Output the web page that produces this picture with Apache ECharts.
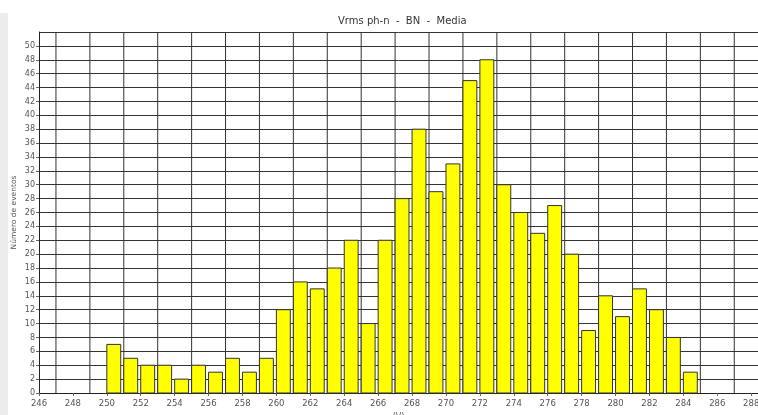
<!DOCTYPE html>
<html>
<head>
<meta charset="utf-8">
<script src="https://cdn.jsdelivr.net/npm/echarts@6/dist/echarts.min.js"></script>
<style>
  html, body { margin: 0; padding: 0; background: #fff; }
  #chart { width: 758px; height: 415px; }
</style>
</head>
<body>
<div id="chart"></div>
<script>
// histogram bins (left edge, V) and event counts
var binStart = [250, 251, 252, 253, 254, 255, 256, 257, 258, 259, 260, 261, 262, 263, 264, 265, 266, 267,
  268, 269, 270, 271, 272, 273, 274, 275, 276, 277, 278, 279, 280, 281, 282, 283, 284]
var counts = [7, 5, 4, 4, 2, 4, 3, 5, 3, 5, 12, 16, 15, 18, 22, 10, 22, 28,
  38, 29, 33, 45, 48, 30, 26, 23, 27, 20, 9, 14, 11, 15, 12, 8, 3]
// vertical grid lines sit on odd values
var gridX = [247, 249, 251, 253, 255, 257, 259, 261, 263, 265, 267, 269, 271, 273, 275, 277, 279, 281, 283, 285, 287]

var GRID_COLOR = '#333'
var TEXT_COLOR = '#555'
var Y_MAX = 52

var chart = echarts.init(document.getElementById('chart'))

var barData = binStart.map(function (x, i) { return [x, counts[i]] })
var vlineData = gridX.map(function (x) { return [x] })

chart.setOption({
  backgroundColor: '#fff',
  animation: false,
  title: {
    text: 'Vrms ph-n  -  BN  -  Media',
    left: 333,
    top: 11,
    textStyle: { fontFamily: 'DejaVu Sans', fontSize: 10, fontWeight: 'normal', color: '#333' }
  },
  graphic: [
    { type: 'rect', left: 0, top: 13, shape: { width: 8, height: 402 }, style: { fill: '#ececec' }, silent: true }
  ],
  grid: { left: 39, right: 0, top: 32, bottom: 22, outerBoundsMode: 'none', containLabel: false },
  xAxis: {
    type: 'value',
    min: 246,
    max: 288.4,
    interval: 2,
    name: '(V)',
    nameLocation: 'middle',
    nameGap: 19,
    nameTextStyle: { fontFamily: 'DejaVu Sans', fontSize: 8, color: TEXT_COLOR },
    axisLine: { show: true, lineStyle: { color: '#222', width: 1 } },
    axisTick: { show: true, length: 3, lineStyle: { color: '#666' } },
    axisLabel: {
      fontFamily: 'DejaVu Sans', fontSize: 8.5, color: TEXT_COLOR, margin: 6,
      showMaxLabel: false,
      formatter: function (v) { return v % 2 === 0 ? String(v) : '' }
    },
    splitLine: { show: false }
  },
  yAxis: {
    type: 'value',
    min: 0,
    max: Y_MAX,
    interval: 2,
    name: 'Número de eventos',
    nameLocation: 'middle',
    nameGap: 21,
    nameMoveOverlap: false,
    nameTextStyle: { fontFamily: 'DejaVu Sans', fontSize: 7.5, color: TEXT_COLOR },
    axisLine: { show: true, lineStyle: { color: '#222', width: 1 } },
    axisTick: { show: true, length: 3, lineStyle: { color: '#666' } },
    axisLabel: { fontFamily: 'DejaVu Sans', fontSize: 8, color: TEXT_COLOR, margin: 4, showMaxLabel: false },
    splitLine: { show: true, lineStyle: { color: GRID_COLOR, width: 1 } }
  },
  series: [
    {
      type: 'custom',
      silent: true,
      z: 1,
      data: vlineData,
      renderItem: function (params, api) {
        var top = api.coord([api.value(0), Y_MAX])
        var bottom = api.coord([api.value(0), 0])
        return {
          type: 'line',
          shape: { x1: top[0], y1: top[1], x2: bottom[0], y2: bottom[1] },
          style: { stroke: GRID_COLOR, lineWidth: 1 }
        }
      }
    },
    {
      type: 'custom',
      z: 2,
      data: barData,
      renderItem: function (params, api) {
        var x = api.value(0)
        var p0 = api.coord([x, api.value(1)])
        var p1 = api.coord([x + 0.82, 0])
        return {
          type: 'rect',
          shape: { x: p0[0], y: p0[1], width: p1[0] - p0[0], height: p1[1] - p0[1] },
          style: { fill: '#ffff00', stroke: '#333', lineWidth: 1 }
        }
      }
    }
  ]
})
</script>
</body>
</html>
